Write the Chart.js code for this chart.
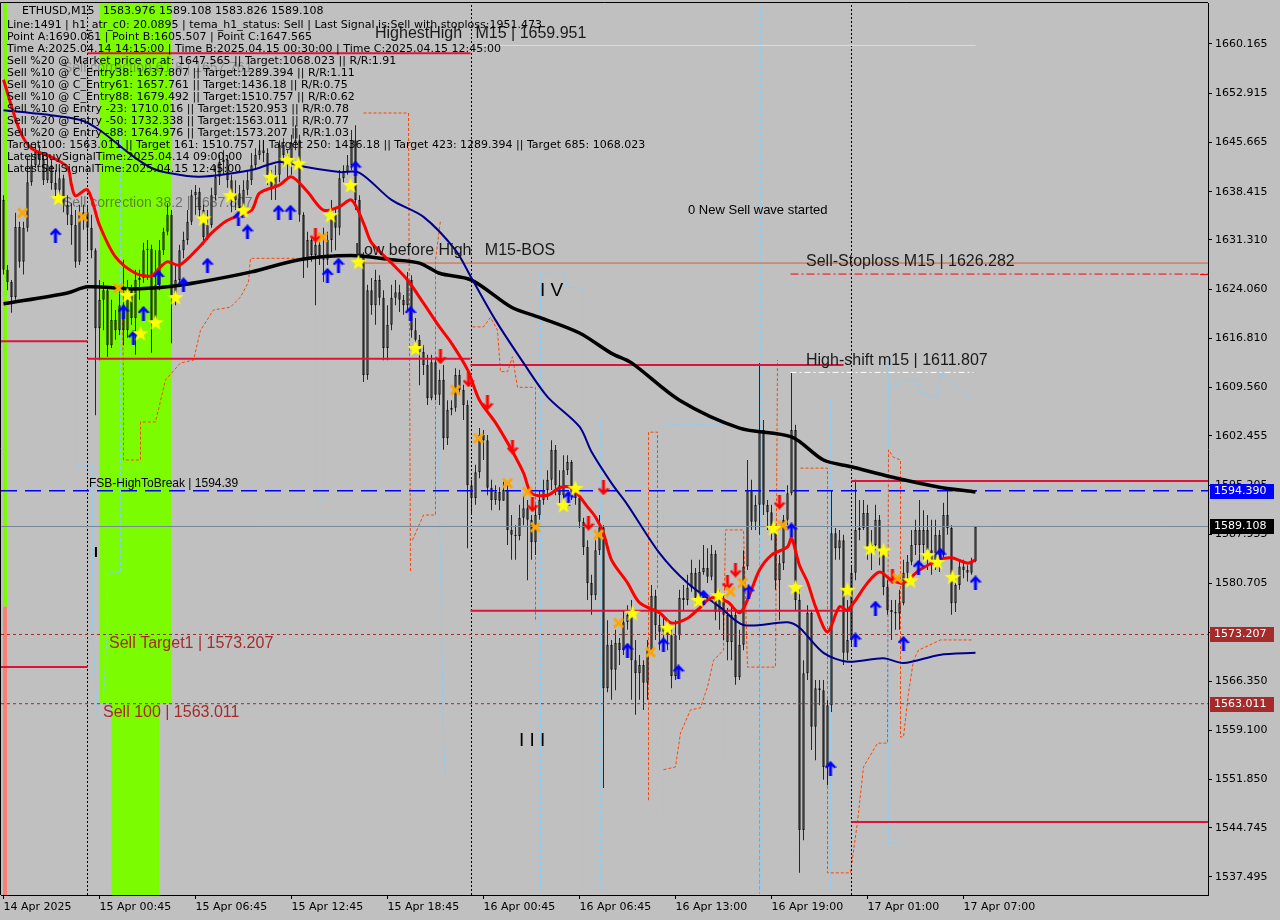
<!DOCTYPE html>
<html>
<head>
<meta charset="utf-8">
<title>ETHUSD,M15</title>
<script src="https://cdn.jsdelivr.net/npm/chart.js@4.4.1/dist/chart.umd.min.js"></script>
<style>
    html, body { margin: 0; padding: 0; background: #c0c0c0; }
    #wrap { width: 1280px; height: 920px; }
</style>
</head>
<body>
<div id="wrap"><canvas id="chart" width="1280" height="920"></canvas></div>
<script>
/**
 * ETHUSD M15 圖表資料 (由畫面讀取)
 */
const firstOpen = 1637.2;

const closes = [
    1626.9, 1625.1, 1622.9, 1633.2, 1628.1, 1633.1, 1639.8, 1642.3, 1644.3, 1643.1,
    1640.1, 1642.3, 1639.7, 1638.7, 1640.4, 1636.5, 1635.0, 1633.5, 1628.1, 1635.0,
    1635.4, 1633.1, 1629.8, 1618.3, 1622.5, 1623.9, 1615.8, 1619.5, 1618.0, 1621.7,
    1618.0, 1623.9, 1619.8, 1625.4, 1625.7, 1629.8, 1630.0, 1619.1, 1624.7, 1629.8,
    1632.5, 1635.0, 1622.9, 1625.4, 1629.8, 1631.3, 1634.0, 1637.9, 1638.4, 1635.7,
    1631.7, 1633.5, 1637.9, 1640.6, 1642.8, 1643.1, 1640.1, 1637.2, 1638.2, 1636.0,
    1638.7, 1640.1, 1642.3, 1643.8, 1644.5, 1644.1, 1640.4, 1639.0, 1640.9, 1645.3,
    1643.8, 1642.3, 1645.6, 1646.0, 1635.0, 1628.6, 1631.3, 1629.1, 1630.6, 1628.6,
    1628.4, 1631.3, 1635.0, 1633.1, 1640.4, 1641.3, 1642.3, 1646.0, 1637.2, 1629.1,
    1611.4, 1623.9, 1621.7, 1625.4, 1622.8, 1615.4, 1618.8, 1622.8, 1623.6, 1622.5,
    1621.7, 1625.4, 1618.0, 1616.6, 1614.8, 1612.9, 1608.0, 1613.3, 1608.5, 1610.7,
    1602.1, 1606.3, 1606.6, 1611.4, 1609.2, 1607.0, 1595.2, 1593.3, 1597.1, 1602.6,
    1601.8, 1594.8, 1593.0, 1594.2, 1592.9, 1594.5, 1588.6, 1587.9, 1587.7, 1590.4,
    1591.8, 1590.1, 1586.8, 1590.8, 1593.0, 1594.5, 1596.0, 1600.4, 1595.2, 1593.7,
    1597.4, 1598.6, 1594.2, 1593.3, 1589.8, 1586.1, 1580.8, 1579.0, 1585.6, 1589.0,
    1565.3, 1571.7, 1568.0, 1572.0, 1570.9, 1575.0, 1576.1, 1569.4, 1567.5, 1568.7,
    1566.1, 1570.9, 1578.9, 1574.6, 1573.6, 1574.2, 1573.1, 1567.1, 1573.1, 1578.6,
    1578.3, 1580.1, 1582.3, 1578.6, 1582.4, 1583.0, 1581.7, 1585.1, 1576.5, 1578.3,
    1576.1, 1572.1, 1576.1, 1566.9, 1571.7, 1583.2, 1594.5, 1589.8, 1592.3, 1603.3,
    1592.3, 1591.2, 1588.6, 1581.2, 1583.7, 1590.1, 1594.0, 1603.3, 1578.3, 1544.4,
    1567.5, 1576.4, 1559.6, 1565.3, 1565.0, 1553.7, 1562.8, 1588.1, 1585.9, 1587.1,
    1570.5, 1572.4, 1582.3, 1588.6, 1588.9, 1591.1, 1586.1, 1586.4, 1590.1, 1585.6,
    1580.2, 1576.8, 1576.5, 1576.3, 1577.8, 1582.3, 1583.9, 1586.4, 1588.6, 1586.4,
    1588.6, 1585.6, 1584.2, 1587.9, 1584.9, 1590.8, 1588.9, 1577.8, 1580.5, 1583.2,
    1582.7, 1582.3, 1583.976, 1589.108
];

const highs = [
    1637.9, 1627.6, 1625.4, 1635.3, 1634.0, 1634.0, 1643.5, 1644.1, 1645.3, 1645.3,
    1643.8, 1643.8, 1643.1, 1641.6, 1641.9, 1640.9, 1637.9, 1636.7, 1635.7, 1636.5,
    1636.5, 1636.2, 1635.0, 1630.1, 1625.4, 1625.1, 1624.2, 1622.5, 1621.0, 1623.9,
    1628.4, 1625.4, 1624.7, 1626.9, 1626.9, 1630.9, 1631.3, 1630.6, 1629.8, 1631.3,
    1633.1, 1636.7, 1635.7, 1627.6, 1630.6, 1632.5, 1635.7, 1638.7, 1639.4, 1639.0,
    1636.5, 1635.7, 1639.0, 1642.3, 1643.8, 1644.5, 1643.8, 1640.9, 1640.1, 1639.4,
    1640.1, 1641.6, 1644.1, 1644.8, 1645.3, 1646.0, 1644.8, 1641.6, 1642.3, 1646.0,
    1646.3, 1644.5, 1646.8, 1648.2, 1646.8, 1635.4, 1632.5, 1631.6, 1631.6, 1631.3,
    1633.1, 1632.5, 1637.2, 1636.0, 1641.6, 1642.3, 1643.8, 1647.5, 1648.2, 1637.9,
    1629.5, 1624.7, 1625.7, 1626.9, 1626.1, 1623.9, 1621.7, 1624.7, 1625.4, 1624.7,
    1623.2, 1626.6, 1626.1, 1619.8, 1617.3, 1615.8, 1614.4, 1614.4, 1613.6, 1612.2,
    1612.9, 1607.7, 1607.7, 1612.4, 1612.2, 1610.0, 1607.7, 1596.0, 1598.2, 1603.6,
    1603.3, 1602.6, 1596.0, 1595.2, 1594.9, 1595.7, 1595.2, 1590.8, 1589.3, 1592.3,
    1593.7, 1593.0, 1590.8, 1592.3, 1594.5, 1596.0, 1597.4, 1601.8, 1601.1, 1597.4,
    1599.6, 1599.6, 1598.9, 1595.2, 1593.0, 1590.4, 1587.1, 1582.0, 1587.1, 1590.8,
    1589.3, 1575.3, 1572.4, 1573.9, 1572.7, 1576.8, 1577.5, 1578.3, 1572.4, 1570.2,
    1569.4, 1572.4, 1580.5, 1579.8, 1576.1, 1576.1, 1575.3, 1573.9, 1575.3, 1579.8,
    1580.5, 1582.0, 1584.2, 1583.0, 1584.2, 1586.4, 1585.9, 1586.4, 1585.6, 1579.8,
    1579.0, 1577.1, 1577.5, 1576.5, 1573.9, 1585.6, 1598.9, 1596.0, 1593.7, 1613.2,
    1604.8, 1593.0, 1592.3, 1589.3, 1584.9, 1590.8, 1595.2, 1611.7, 1604.1, 1579.8,
    1569.4, 1577.5, 1576.8, 1566.5, 1566.5, 1566.5, 1563.6, 1594.5, 1588.9, 1588.6,
    1587.9, 1578.3, 1583.4, 1596.0, 1593.0, 1593.0, 1592.3, 1588.6, 1592.3, 1590.8,
    1585.9, 1581.2, 1578.3, 1578.3, 1579.8, 1584.2, 1584.9, 1588.6, 1590.1, 1593.0,
    1591.5, 1590.8, 1590.1, 1590.1, 1588.6, 1592.6, 1594.5, 1589.3, 1582.0, 1584.2,
    1584.2, 1583.4, 1584.5, 1589.108
];

const lows = [
    1626.2, 1623.9, 1620.6, 1622.5, 1627.2, 1626.2, 1632.5, 1639.3, 1641.9, 1642.3,
    1639.4, 1639.7, 1638.7, 1637.2, 1637.9, 1635.4, 1633.5, 1630.6, 1627.2, 1627.6,
    1632.8, 1629.8, 1628.6, 1605.5, 1613.6, 1618.0, 1614.1, 1615.4, 1616.6, 1617.3,
    1615.8, 1616.9, 1618.8, 1614.4, 1622.5, 1625.0, 1625.4, 1614.7, 1619.5, 1623.9,
    1629.1, 1632.0, 1616.1, 1621.7, 1624.7, 1628.6, 1630.6, 1633.5, 1635.0, 1634.5,
    1630.6, 1631.3, 1633.1, 1637.2, 1639.4, 1640.9, 1639.0, 1635.4, 1635.7, 1635.4,
    1635.4, 1637.9, 1639.4, 1641.6, 1643.1, 1642.8, 1639.4, 1637.2, 1637.2, 1639.8,
    1642.3, 1640.1, 1640.9, 1644.5, 1634.0, 1625.7, 1627.2, 1628.1, 1621.7, 1627.6,
    1625.1, 1627.6, 1629.5, 1629.8, 1632.0, 1639.8, 1640.9, 1641.6, 1635.7, 1628.1,
    1610.4, 1610.7, 1620.3, 1618.8, 1621.7, 1613.6, 1613.6, 1618.0, 1621.7, 1620.7,
    1620.3, 1621.0, 1616.9, 1615.8, 1609.9, 1611.4, 1607.0, 1607.7, 1607.7, 1607.0,
    1600.4, 1601.1, 1605.5, 1606.0, 1608.5, 1604.8, 1585.9, 1590.8, 1592.3, 1596.2,
    1598.9, 1593.7, 1591.5, 1592.3, 1591.5, 1593.0, 1586.4, 1584.2, 1584.2, 1587.1,
    1589.3, 1581.2, 1584.2, 1584.9, 1590.1, 1592.3, 1593.0, 1594.5, 1593.7, 1592.3,
    1593.0, 1596.7, 1593.0, 1592.3, 1588.9, 1584.9, 1578.3, 1576.1, 1578.3, 1584.9,
    1550.6, 1564.7, 1563.6, 1565.0, 1568.7, 1570.2, 1573.9, 1563.6, 1561.4, 1563.6,
    1562.1, 1563.6, 1570.6, 1572.4, 1570.9, 1572.4, 1570.9, 1565.3, 1566.5, 1572.4,
    1576.8, 1577.5, 1579.5, 1577.5, 1578.3, 1582.0, 1580.8, 1581.2, 1575.3, 1573.9,
    1572.4, 1569.4, 1569.4, 1565.8, 1566.5, 1570.9, 1582.7, 1588.6, 1588.6, 1587.9,
    1590.8, 1588.6, 1587.1, 1579.8, 1575.3, 1582.7, 1589.3, 1593.7, 1576.8, 1538.1,
    1542.9, 1566.5, 1556.2, 1554.7, 1562.8, 1551.8, 1551.0, 1561.8, 1584.2, 1584.2,
    1568.7, 1569.4, 1571.7, 1581.2, 1587.1, 1588.6, 1584.2, 1582.7, 1585.6, 1583.4,
    1579.0, 1576.1, 1572.4, 1573.9, 1573.9, 1577.5, 1581.2, 1583.4, 1584.9, 1583.7,
    1584.2, 1582.7, 1582.0, 1582.7, 1582.4, 1584.2, 1587.9, 1576.1, 1576.5, 1579.8,
    1581.5, 1581.0, 1582.0, 1583.826
];

// 時間軸刻度
const timeTickIdx = [0, 24, 48, 72, 96, 120, 144, 168, 192, 216, 240];
const timeTickLabels = ['14 Apr 2025', '15 Apr 00:45', '15 Apr 06:45', '15 Apr 12:45', '15 Apr 18:45',
    '16 Apr 00:45', '16 Apr 06:45', '16 Apr 13:00', '16 Apr 19:00', '17 Apr 01:00', '17 Apr 07:00'];

// 價格軸刻度
const priceTicks = [1660.165, 1652.915, 1645.665, 1638.415, 1631.310, 1624.060, 1616.810, 1609.560,
    1602.455, 1595.205, 1587.955, 1580.705, 1573.455, 1566.350, 1559.100, 1551.850, 1544.745, 1537.495];

// 均線 [bar, price]
const maSlow = [[0, 1621.9], [16, 1623.5], [21, 1624.4], [32, 1624.1], [41, 1624.4], [49, 1625.1], [62, 1626.6],
    [74, 1628.4], [87, 1629.0], [97, 1628.4], [104, 1627.9], [109, 1626.4], [117, 1625.4], [127, 1621.4],
    [134, 1619.9], [144, 1617.6], [152, 1614.6], [157, 1613.2], [169, 1607.7], [184, 1603.6], [197, 1602.3],
    [205, 1598.9], [212, 1597.9], [222, 1596.4], [234, 1594.9], [243, 1594.2]];
const maMid = [[0, 1650.4], [10, 1649.8], [19, 1649.0], [24, 1647.5], [32, 1643.8], [37, 1641.9], [41, 1641.2],
    [49, 1640.6], [62, 1641.6], [69, 1642.8], [76, 1642.0], [84, 1641.3], [89, 1641.2], [97, 1637.2],
    [105, 1634.7], [113, 1629.8], [117, 1625.7], [123, 1619.5], [130, 1613.2], [136, 1608.2], [144, 1603.8],
    [147, 1600.1], [152, 1595.5], [156, 1592.3], [164, 1585.2], [171, 1580.8], [179, 1577.3], [185, 1574.6],
    [196, 1575.0], [199, 1574.2], [205, 1570.5], [211, 1569.2], [220, 1569.7], [225, 1569.0], [234, 1570.2],
    [243, 1570.5]];
const maFast = [[0, 1654.9], [4, 1647.5], [7, 1644.8], [12, 1643.5], [16, 1642.0], [17, 1639.4], [18, 1637.8],
    [21, 1638.7], [24, 1633.5], [28, 1628.8], [33, 1626.4], [37, 1626.0], [39, 1627.2], [41, 1628.1],
    [44, 1627.6], [49, 1630.3], [52, 1632.3], [56, 1634.2], [62, 1635.7], [64, 1638.2], [69, 1639.4],
    [72, 1640.6], [76, 1638.4], [80, 1635.7], [84, 1636.2], [87, 1637.2], [90, 1633.8], [92, 1630.9],
    [97, 1627.9], [101, 1625.4], [105, 1622.0], [109, 1618.5], [112, 1616.1], [116, 1612.2], [119, 1607.7],
    [123, 1604.4], [127, 1600.4], [130, 1597.0], [132, 1594.0], [136, 1593.7], [139, 1594.8], [142, 1594.8],
    [146, 1592.0], [148, 1590.5], [150, 1588.1], [152, 1584.2], [156, 1580.8], [159, 1577.9], [164, 1576.4],
    [167, 1574.9], [171, 1575.6], [174, 1577.1], [177, 1578.6], [181, 1578.0], [184, 1576.4], [186, 1578.3],
    [189, 1582.7], [192, 1584.9], [196, 1586.1], [197, 1587.4], [199, 1583.4], [201, 1580.9], [203, 1577.3],
    [206, 1573.6], [209, 1577.3], [211, 1576.8], [216, 1580.8], [219, 1582.4], [222, 1581.2], [225, 1580.8],
    [229, 1582.7], [234, 1584.2], [237, 1584.5], [241, 1583.7], [243, 1584.2]];

// 關鍵價位
const highestHigh = 1659.951;
const stopLoss = 1626.282;
const bosLevel = 1627.9;
const highShift = 1611.807;
const fsbHigh = 1594.39;
const lastPrice = 1589.108;
const sellTarget1 = 1573.207;
const sell100 = 1563.011;

// 紅色水平線段 [fromBar, toBar, price]
const levelSegments = [[21, 116.75, 1658.8], [-1, 21, 1616.4], [21, 116.75, 1613.8], [116.75, 210, 1612.9],
    [212, 302, 1595.8], [116.75, 212, 1576.7], [-1, 21, 1568.4], [212, 302, 1545.6]];
const sessionBreaks = [21, 117, 212];

// 橘色虛線包絡
const orangeTraces = [
    [[29.75, 1619.9], [30, 1610.7], [30, 1598.9], [34.25, 1598.9], [34.25, 1604.5], [38, 1604.5], [40.5, 1610.7],
        [44.25, 1613.2], [47.5, 1613.6], [49.25, 1618.0], [52.5, 1621.0], [56.75, 1621.4], [59.25, 1622.9],
        [61.25, 1625.1], [61.75, 1628.6], [73.5, 1628.6]],
    [[90, 1650.0], [101.25, 1650.0], [101.75, 1582.4]],
    [[102.25, 1587.1], [105, 1590.8], [108, 1590.8], [108, 1628.4], [109.25, 1634.2]],
    [[117.25, 1618.5], [120, 1618.5], [121.75, 1619.9], [123.5, 1618.0], [124.25, 1611.9], [126, 1611.9],
        [127.25, 1614.1], [128.5, 1609.6], [133, 1609.6], [133, 1575.3]],
    [[161.25, 1548.8], [161.25, 1603.0], [163.5, 1603.0], [163.5, 1579.8]],
    [[165, 1553.3], [168, 1553.7], [169.25, 1558.7], [171.75, 1562.1], [174.25, 1562.4], [176, 1565.5],
        [177.5, 1569.4], [180, 1570.9], [180.5, 1588.6], [185, 1588.6], [186, 1568.4], [193, 1568.4], [193.5, 1613.6]],
    [[199.25, 1597.7], [206, 1597.7], [206, 1538.1], [211.75, 1538.1], [213.5, 1545.6], [215, 1553.7],
        [218.5, 1557.2], [221, 1557.2], [221.25, 1600.4], [222.5, 1599.3], [224.25, 1598.9], [224.25, 1558.1],
        [225, 1558.1], [226.25, 1564.6], [227.5, 1569.4], [228.75, 1570.9], [234.25, 1572.4], [242.5, 1572.4]]
];

// 淺藍虛線
const blueTraces = [
    [[18, 1649.0], [18, 1597.9], [22.25, 1597.9], [22.25, 1574.3], [23.5, 1560.9], [25, 1560.9]],
    [[29.25, 1647.5], [29.25, 1582.3], [26, 1582.3], [26, 1574.3], [25, 1564.0]],
    [[78, 1631.3], [78, 1593.0], [80, 1593.0], [80, 1631.3]],
    [[108.5, 1666.0], [108.5, 1607.7], [110, 1557.7], [110.5, 1551.8]],
    [[134.25, 1535.6], [134.25, 1626.4], [140, 1626.4], [141, 1624.4], [145, 1624.2], [145, 1535.6]],
    [[149.25, 1604.8], [149.25, 1535.6]],
    [[165, 1545.9], [165, 1604.1], [180, 1604.1], [180, 1554.7]],
    [[189.25, 1665.9], [189.25, 1535.0]],
    [[198.5, 1640.9], [198.5, 1535.0]],
    [[206.75, 1607.7], [206.75, 1535.6]],
    [[221.25, 1613.6], [221.25, 1542.5], [224.25, 1542.5]],
    [[221.25, 1609.2], [225, 1610.7], [228.5, 1610.7], [229.25, 1608.8], [233.5, 1608.0], [234.25, 1611.7],
        [242.5, 1607.7]]
];
const pinkTrace = [[189, 1590.1], [189, 1535.0]];

// 訊號標記
const starPts = [[13.75, 1637.5], [31, 1623.2], [34.25, 1617.6], [38, 1619.2], [43, 1622.9], [50, 1634.5],
    [56.75, 1637.9], [60, 1635.7], [66.75, 1640.6], [71, 1643.1], [73.75, 1642.6], [81.75, 1635.0],
    [86.75, 1639.4], [88.75, 1628.1], [103, 1615.4], [140, 1592.3], [143, 1594.8], [157.25, 1576.4],
    [166, 1574.2], [173.75, 1578.3], [178.75, 1579.0], [192.5, 1588.9], [198, 1580.2], [211, 1579.8],
    [216.75, 1585.9], [220, 1585.6], [226.75, 1581.2], [231, 1584.9], [233.5, 1583.9], [237.25, 1581.7]];
const crossPts = [[4.75, 1635.3], [19.75, 1634.7], [28.75, 1624.2], [79.75, 1631.7], [113, 1609.2],
    [118.75, 1602.1], [126, 1595.5], [131, 1594.2], [133, 1589.0], [148.75, 1587.9], [153.75, 1574.9],
    [161.75, 1570.6], [181.75, 1579.5], [184.75, 1580.8], [194.75, 1589.3], [223.5, 1581.5]];
const upPts = [[13, 1632.0], [30, 1620.7], [35, 1620.5], [32.5, 1616.9], [38.75, 1625.8], [45, 1624.7],
    [51, 1627.6], [58.75, 1634.5], [61, 1632.5], [68.75, 1635.4], [71.75, 1635.4], [81, 1626.1],
    [83.75, 1627.6], [88, 1641.9], [101.75, 1620.5], [141.25, 1593.3], [156, 1570.9], [165, 1571.7],
    [168.75, 1567.7], [175, 1578.7], [186.25, 1579.5], [197, 1588.6], [206.75, 1553.5], [213, 1572.4],
    [218, 1577.1], [225, 1571.9], [228.75, 1583.1], [234.25, 1584.9], [243, 1580.8]];
const downPts = [[78, 1632.0], [109.25, 1614.1], [116.25, 1610.7], [121, 1607.3], [127.25, 1600.8],
    [132.25, 1592.3], [146.25, 1589.6], [150, 1594.8], [181, 1580.8], [183, 1582.7], [194, 1592.7],
    [222.25, 1581.7]];

// 區塊
const buyZone = { from: 24, to: 42, floor: sell100 };
const buyZoneTail = { from: 27, to: 39 };
const sideStrip = { from: 0, to: 1, split: 1577.3 };

const infoLines = [
    'Line:1491 | h1_atr_c0: 20.0895 | tema_h1_status: Sell | Last Signal is:Sell with stoploss:1951.473',
    'Point A:1690.061 | Point B:1605.507 | Point C:1647.565',
    'Time A:2025.04.14 14:15:00 | Time B:2025.04.15 00:30:00 | Time C:2025.04.15 12:45:00',
    'Sell %20 @ Market price or at: 1647.565 || Target:1068.023 || R/R:1.91',
    'Sell %10 @ C_Entry38: 1637.807 || Target:1289.394 || R/R:1.11',
    'Sell %10 @ C_Entry61: 1657.761 || Target:1436.18 || R/R:0.75',
    'Sell %10 @ C_Entry88: 1679.492 || Target:1510.757 || R/R:0.62',
    'Sell %10 @ Entry -23: 1710.016 || Target:1520.953 || R/R:0.78',
    'Sell %20 @ Entry -50: 1732.338 || Target:1563.011 || R/R:0.77',
    'Sell %20 @ Entry -88: 1764.976 || Target:1573.207 || R/R:1.03',
    'Target100: 1563.011 || Target 161: 1510.757 || Target 250: 1436.18 || Target 423: 1289.394 || Target 685: 1068.023',
    'LatestBuySignalTime:2025.04.14 09:00:00',
    'LatestSellSignalTime:2025.04.15 12:45:00'
];

const X_MIN = -0.625;
const X_MAX = 301.125;
const Y_MIN = 1534.84;
const Y_MAX = 1666.2;

/* ---------- 工具 ---------- */
function toXY(list) {
    return list.map(([x, y]) => ({ x, y }));
}

function lineSet(points, color, width, dash, order, tension) {
    return {
        type: 'line',
        data: toXY(points),
        borderColor: color,
        borderWidth: width,
        borderDash: dash || [],
        pointRadius: 0,
        fill: false,
        tension: tension || 0,
        order: order
    };
}

function segment(from, to, price, color, width, dash, order) {
    return lineSet([[from, price], [to, price]], color, width, dash, order);
}

function markerSet(points, img) {
    return {
        type: 'line',
        data: toXY(points),
        showLine: false,
        pointStyle: img,
        pointRadius: 8,
        order: 0
    };
}

function makeCanvas(w, h) {
    const cv = document.createElement('canvas');
    cv.width = w;
    cv.height = h;
    return cv;
}

function makeStar() {
    const cv = makeCanvas(18, 18);
    const g = cv.getContext('2d');
    g.beginPath();
    for (let k = 0; k < 10; k++) {
        const r = k % 2 === 0 ? 8.5 : 3.5;
        const a = -Math.PI / 2 + k * Math.PI / 5;
        const px = 9 + r * Math.cos(a);
        const py = 9.8 + r * Math.sin(a);
        if (k === 0) g.moveTo(px, py); else g.lineTo(px, py);
    }
    g.closePath();
    g.fillStyle = '#ffff00';
    g.fill();
    return cv;
}

function makeCross() {
    const cv = makeCanvas(13, 13);
    const g = cv.getContext('2d');
    g.strokeStyle = '#ffa500';
    g.lineWidth = 3;
    g.beginPath();
    g.moveTo(2, 2); g.lineTo(11, 11);
    g.moveTo(11, 2); g.lineTo(2, 11);
    g.stroke();
    return cv;
}

function makeArrow(color, down) {
    const cv = makeCanvas(12, 15);
    const g = cv.getContext('2d');
    if (down) {
        g.translate(0, 15);
        g.scale(1, -1);
    }
    g.beginPath();
    g.moveTo(6, 0); g.lineTo(12, 6.5); g.lineTo(9.5, 7.5); g.lineTo(7.5, 5);
    g.lineTo(7.5, 15); g.lineTo(4.5, 15); g.lineTo(4.5, 5); g.lineTo(2.5, 7.5);
    g.lineTo(0, 6.5);
    g.closePath();
    g.fillStyle = color;
    g.fill();
    return cv;
}

/* ---------- 蠟燭 ---------- */
const opens = closes.map((c, i) => (i === 0 ? firstOpen : closes[i - 1]));
const bodyData = closes.map((c, i) => ({ x: i, y: [opens[i], c] }));
const bodyColors = closes.map((c, i) => (c >= opens[i] ? '#3cb371' : '#dc143c'));
const wickData = closes.map((c, i) => ({
    x: i,
    y: [Math.min(lows[i], opens[i], c), Math.max(highs[i], opens[i], c)]
}));

/* ---------- 資料集 ---------- */
const datasets = [
    markerSet(starPts, makeStar()),
    markerSet(crossPts, makeCross()),
    markerSet(upPts, makeArrow('#0000ff', false)),
    markerSet(downPts, makeArrow('#ff0000', true)),
    lineSet(maFast, '#ff0000', 3, null, 1, 0.3),
    lineSet(maMid, '#00008b', 2, null, 1, 0.3),
    lineSet(maSlow, '#000000', 3.5, null, 1, 0.3)
];

levelSegments.forEach(([from, to, price]) => {
    datasets.push(segment(from, to, price, '#dc143c', 2, null, 2));
});
datasets.push(segment(X_MIN, X_MAX, fsbHigh, '#0000ff', 1.5, [16, 8], 2));
datasets.push(segment(X_MIN, X_MAX, lastPrice, '#778899', 1, null, 2));
datasets.push(segment(X_MIN, X_MAX, sellTarget1, '#a52a2a', 1, [3, 3], 2));
datasets.push(segment(X_MIN, X_MAX, sell100, '#a52a2a', 1, [3, 3], 2));
datasets.push(segment(196.75, X_MAX, stopLoss, '#ff0000', 1, [8, 3, 2, 3], 2));
datasets.push(segment(196.75, 242.5, highShift, '#ffffff', 1, [6, 3, 2, 3], 2));
datasets.push(segment(116.75, 243, highestHigh, '#dcdcdc', 1, null, 2));
datasets.push(segment(88, X_MAX, bosLevel, '#e05a2a', 1, null, 2));
sessionBreaks.forEach((b) => {
    datasets.push(lineSet([[b, Y_MIN], [b, Y_MAX]], '#000000', 1, [2, 2], 2));
});

datasets.push({
    type: 'bar',
    data: bodyData,
    backgroundColor: bodyColors,
    borderColor: '#000000',
    borderWidth: 1,
    borderSkipped: false,
    grouped: false,
    barPercentage: 0.75,
    minBarLength: 1,
    order: 3
});
datasets.push({
    type: 'bar',
    data: wickData,
    backgroundColor: '#000000',
    borderWidth: 0,
    grouped: false,
    barPercentage: 0.25,
    order: 4
});

orangeTraces.forEach((t) => datasets.push(lineSet(t, '#ff4500', 1, [3, 2], 5)));
blueTraces.forEach((t) => datasets.push(lineSet(t, '#87cefa', 1, [4, 2], 5)));
datasets.push(lineSet(pinkTrace, '#ff69b4', 1, [4, 2], 5));

/* ---------- 外掛: 背景、區塊、文字 ---------- */
function drawText(c, str, x, y, font, color) {
    c.font = font;
    c.fillStyle = color;
    c.fillText(str, x, y);
}

const mt4Overlay = {
    id: 'mt4Overlay',
    beforeDraw(chart) {
        const c = chart.ctx;
        c.save();
        c.fillStyle = '#c0c0c0';
        c.fillRect(0, 0, chart.width, chart.height);
        c.restore();
    },
    beforeDatasetsDraw(chart) {
        const c = chart.ctx;
        const xs = chart.scales.x;
        const ys = chart.scales.y;
        const area = chart.chartArea;
        c.save();
        // 綠色區塊
        c.fillStyle = '#7cfc00';
        const zx1 = xs.getPixelForValue(buyZone.from);
        const zx2 = xs.getPixelForValue(buyZone.to);
        const zFloor = ys.getPixelForValue(buyZone.floor);
        c.fillRect(zx1, area.top, zx2 - zx1, zFloor - area.top);
        const tx1 = xs.getPixelForValue(buyZoneTail.from);
        const tx2 = xs.getPixelForValue(buyZoneTail.to);
        c.fillRect(tx1, zFloor, tx2 - tx1, area.bottom - zFloor);
        // 左側色條
        const sx1 = xs.getPixelForValue(sideStrip.from) - 0.5;
        const sx2 = xs.getPixelForValue(sideStrip.to) - 0.5;
        const sy = ys.getPixelForValue(sideStrip.split);
        c.fillRect(sx1, area.top, sx2 - sx1, sy - area.top);
        c.fillStyle = '#fa8072';
        c.fillRect(sx1, sy, sx2 - sx1, area.bottom - sy);
        // 淡色註解
        c.textBaseline = 'middle';
        drawText(c, 'Sell correction 61.8 | 1657.761', 63, 68, '14px "Liberation Sans"', 'rgba(80,80,80,0.45)');
        drawText(c, 'Sell correction 38.2 | 1637.807', 63, 203, '14px "Liberation Sans"', 'rgba(60,60,60,0.6)');
        c.restore();
    },
    afterDatasetsDraw(chart) {
        const c = chart.ctx;
        const ys = chart.scales.y;
        c.save();
        c.textBaseline = 'middle';
        const big = '16px "Liberation Sans"';
        drawText(c, 'HighestHigh   M15 | 1659.951', 375, ys.getPixelForValue(highestHigh) - 12, big, '#1a1a1a');
        drawText(c, 'Low before High   M15-BOS', 355, ys.getPixelForValue(bosLevel) - 12, big, '#1a1a1a');
        drawText(c, 'Sell-Stoploss M15 | 1626.282', 806, ys.getPixelForValue(stopLoss) - 12, big, '#1a1a1a');
        drawText(c, 'High-shift m15 | 1611.807', 806, ys.getPixelForValue(highShift) - 12, big, '#1a1a1a');
        drawText(c, 'FSB-HighToBreak | 1594.39', 89, ys.getPixelForValue(fsbHigh) - 7, '12px "Liberation Sans"', '#000000');
        drawText(c, 'Sell Target1 | 1573.207', 109, ys.getPixelForValue(sellTarget1) + 9, big, '#a52a2a');
        drawText(c, 'Sell 100 | 1563.011', 103, ys.getPixelForValue(sell100) + 9, big, '#a52a2a');
        drawText(c, '0 New Sell wave started', 688, 210, '13px "Liberation Sans"', '#000000');
        drawText(c, 'I V', 540, 291, '19px "Liberation Sans"', '#000000');
        drawText(c, 'I I I', 519, 741, '19px "Liberation Sans"', '#000000');
        drawText(c, 'I', 94, 553, 'bold 14px "Liberation Sans"', '#000000');
        // 左上資訊
        const info = '11px "DejaVu Sans"';
        drawText(c, 'ETHUSD,M15', 22, 11, info, '#000000');
        drawText(c, '1583.976 1589.108 1583.826 1589.108', 103, 11, info, '#000000');
        infoLines.forEach((line, k) => drawText(c, line, 7, 25 + 12 * k, info, '#000000'));
        c.restore();
    },
    afterDraw(chart) {
        const c = chart.ctx;
        const ys = chart.scales.y;
        const area = chart.chartArea;
        c.save();
        // 外框
        c.strokeStyle = '#000000';
        c.lineWidth = 1;
        c.beginPath();
        c.moveTo(area.left - 0.5, area.bottom);
        c.lineTo(area.left - 0.5, area.top - 0.5);
        c.lineTo(area.right, area.top - 0.5);
        c.stroke();
        // 右側價格標籤
        const boxes = [[fsbHigh, '#0000ff'], [lastPrice, '#000000'], [sellTarget1, '#a52a2a'], [sell100, '#a52a2a']];
        c.textBaseline = 'middle';
        boxes.forEach(([p, color]) => {
            const y = Math.round(ys.getPixelForValue(p));
            c.fillStyle = color;
            c.fillRect(area.right + 2, y - 7, 64, 15);
            drawText(c, p.toFixed(3), area.right + 6, y + 0.5, '11px "DejaVu Sans"', '#ffffff');
        });
        c.fillStyle = '#ff0000';
        c.fillRect(area.right - 8, Math.round(ys.getPixelForValue(stopLoss)), 8, 1);
        c.restore();
    }
};

/* ---------- 建立圖表 ---------- */
const axisFont = { family: 'DejaVu Sans', size: 11 };

new Chart(document.getElementById('chart'), {
    type: 'bar',
    data: { datasets: datasets },
    plugins: [mt4Overlay],
    options: {
        responsive: false,
        animation: false,
        events: [],
        layout: { autoPadding: false, padding: { top: 3, left: 1, right: 0, bottom: 0 } },
        plugins: {
            legend: { display: false },
            tooltip: { enabled: false }
        },
        scales: {
            x: {
                type: 'linear',
                min: X_MIN,
                max: X_MAX,
                offset: false,
                afterFit: (s) => {
                    s.height = 25;
                    s.paddingLeft = 0;
                    s.paddingRight = 0;
                },
                afterBuildTicks: (s) => { s.ticks = timeTickIdx.map((v) => ({ value: v })); },
                grid: { display: true, offset: false, drawOnChartArea: false, drawTicks: true, tickLength: 4, color: '#000000' },
                border: { display: true, color: '#000000' },
                ticks: {
                    autoSkip: false,
                    maxRotation: 0,
                    align: 'start',
                    padding: 2,
                    color: '#000000',
                    font: axisFont,
                    callback: (v, i) => timeTickLabels[i]
                }
            },
            y: {
                position: 'right',
                min: Y_MIN,
                max: Y_MAX,
                afterFit: (s) => {
                    s.width = 72;
                    s.paddingTop = 0;
                    s.paddingBottom = 0;
                },
                afterBuildTicks: (s) => { s.ticks = priceTicks.map((v) => ({ value: v })); },
                grid: { display: true, drawOnChartArea: false, drawTicks: true, tickLength: 4, color: '#000000' },
                border: { display: true, color: '#000000' },
                ticks: {
                    autoSkip: false,
                    padding: 3,
                    color: '#000000',
                    font: axisFont,
                    callback: (v) => Number(v).toFixed(3)
                }
            }
        }
    }
});
</script>
</body>
</html>
